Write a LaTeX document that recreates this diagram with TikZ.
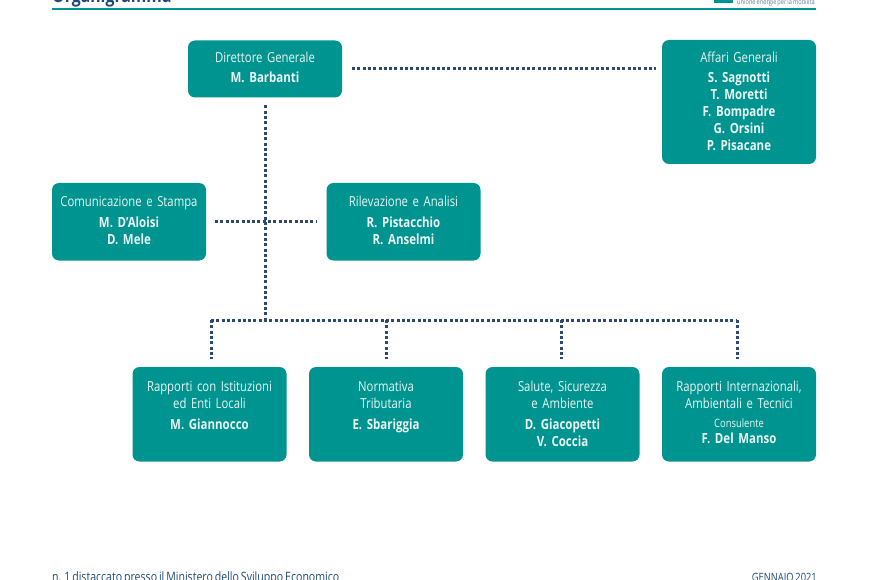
\documentclass[tikz,border=0pt]{standalone}
\usepackage{fontspec}
\setmainfont{Open Sans}[FakeStretch=0.82,WordSpace=0.7]
\usetikzlibrary{calc}
\definecolor{tealbox}{HTML}{009490}
\definecolor{navy}{HTML}{1F4A75}
\definecolor{dotblue}{HTML}{2C4A6E}
\definecolor{boxtext}{HTML}{EAF7F5}
\newcommand{\bn}[1]{{\bfseries\fontsize{14}{17}\selectfont #1}}
\tikzset{
  x=1pt,y=-1pt,
  orgbox/.style={fill=tealbox,rounded corners=7pt,inner sep=0pt,outer sep=0pt,anchor=north west,text=boxtext,
    minimum width=154pt},
  dotline/.style={draw=dotblue,line width=3pt,dash pattern=on 3pt off 2.3pt},
}
\newcommand{\orgbox}[6]{% name, x, y, h, top pad, text
  \node[orgbox,minimum height=#4pt] (#1) at (#2,#3) {};
  \node[text=boxtext,anchor=north,inner sep=0pt,align=center,text width=154pt,font=\fontsize{13.8}{17}\selectfont] (#1t) at ($(#1.north)+(0,#5)$) {#6};
}
\begin{document}
\begin{tikzpicture}
\useasboundingbox (0,0) rectangle (870,580);
\clip (0,0) rectangle (870,580);
\fill[white] (0,0) rectangle (870,580);
% header
\node[anchor=base west,inner sep=0pt,text=navy,font=\fontsize{19.3}{20}\bfseries\selectfont] (title) at (52,3) {Organigramma};
\fill[tealbox] (52,8) rectangle (816,10.5);
\fill[tealbox] (714,0) rectangle (733,3);
\node[anchor=base west,inner sep=0pt,text=navy!70,font=\fontsize{6.9}{7}\selectfont] (logo) at (737,4.4) {unione energie per la mobilità};
% footer
\node[anchor=base west,inner sep=0pt,text=navy,font=\fontsize{12.9}{13}\selectfont] (foot) at (52,581.5) {n. 1 distaccato presso il Ministero dello Sviluppo Economico};
\node[anchor=base east,inner sep=0pt,text=navy,font=\fontsize{11.4}{12}\selectfont] (date) at (817,581.5) {GENNAIO 2021};
% boxes
\orgbox{dir}{188}{40.5}{57}{11.5}{Direttore Generale\\[3pt]\bn{M. Barbanti}}
\orgbox{aff}{662}{40}{124}{12}{Affari Generali\\[3pt]\bn{S. Sagnotti}\\\bn{T. Moretti}\\\bn{F. Bompadre}\\\bn{G. Orsini}\\\bn{P. Pisacane}}
\orgbox{com}{52}{183}{77.5}{13}{Comunicazione e Stampa\\[4pt]\bn{M. D'Aloisi}\\\bn{D. Mele}}
\orgbox{ril}{326.5}{183}{77.5}{13}{Rilevazione e Analisi\\[4pt]\bn{R. Pistacchio}\\\bn{R. Anselmi}}
\orgbox{rap}{132.5}{367}{94.5}{14}{Rapporti con Istituzioni\\ed Enti Locali\\[4pt]\bn{M. Giannocco}}
\orgbox{nor}{309}{367}{94.5}{14}{Normativa\\Tributaria\\[4pt]\bn{E. Sbariggia}}
\orgbox{sal}{485.5}{367}{94.5}{14}{Salute, Sicurezza\\e Ambiente\\[4pt]\bn{D. Giacopetti}\\\bn{V. Coccia}}
\orgbox{int}{662}{367}{94.5}{14}{Rapporti Internazionali,\\Ambientali e Tecnici\\[2pt]{\fontsize{11.5}{14}\selectfont Consulente}\\[-1pt]\bn{F. Del Manso}}
% connectors
\coordinate (jb) at (265,320);
\coordinate (b1) at (211,320);
\coordinate (b2) at (386,320);
\coordinate (b3) at (561,320);
\coordinate (b4) at (737,320);
\draw[dotline,shorten <=10pt,shorten >=6pt] (dir.east|-0,69) -- (aff.west|-0,69);
\draw[dotline,shorten <=8pt] (dir.south) -- (jb);
\draw[dotline,shorten <=9pt,shorten >=10.5pt] (com.east) -- (ril.west);
\draw[dotline] (b1) -- (b4);
\draw[dotline,shorten >=8pt] (b1) -- (b1|-rap.north);
\draw[dotline,shorten >=8pt] (b2) -- (b2|-nor.north);
\draw[dotline,shorten >=8pt] (b3) -- (b3|-sal.north);
\draw[dotline,shorten >=8pt] (b4) -- (b4|-int.north);
\end{tikzpicture}
\end{document}
